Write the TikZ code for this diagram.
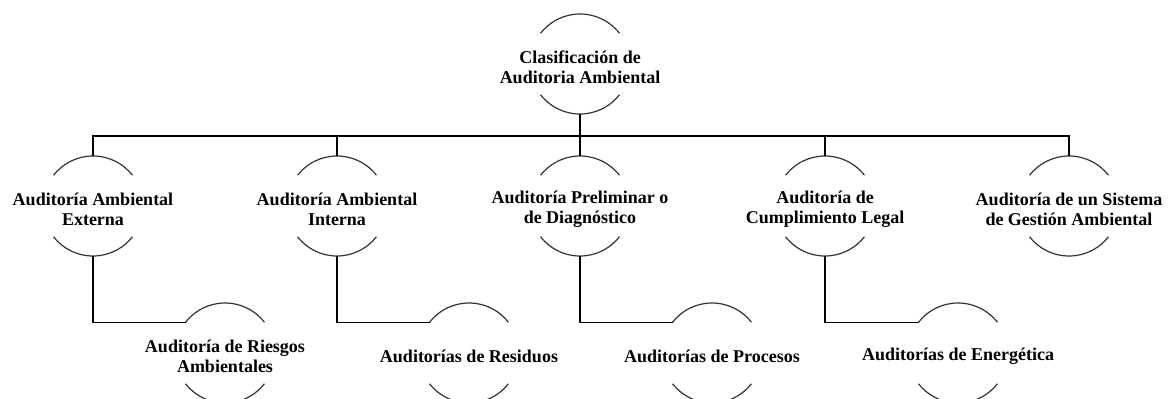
\documentclass[tikz,border=0pt]{standalone}
\usepackage{fontspec}
\setmainfont{Liberation Serif}
\begin{document}
\begin{tikzpicture}[x=1pt,y=-1pt,
  hub/.style={circle,minimum size=100pt,inner sep=0pt,outer sep=0pt,draw=none,
    label={[txt,yshift=-3pt]center:#1}},
  txt/.style={align=center,font=\fontsize{18}{20}\selectfont\bfseries,inner sep=0pt},
  arcline/.style={draw=black!80,line width=1.2pt},
  bus/.style={draw=black,line width=1.8pt},
  sub/.style={draw=black,line width=1.4pt}]
\useasboundingbox (0,0) rectangle (1173,399);
\coordinate (bus) at (0,136);
\node[hub={Clasificación de\\Auditoria Ambiental}] (top) at (580,64) {};
\node[hub={Auditoría Ambiental\\Externa}] (a1) at (93,206) {};
\node[hub={Auditoría Ambiental\\Interna}] (a2) at (337,206) {};
\node[hub={Auditoría Preliminar o\\de Diagnóstico}] (a3) at (580,206) {};
\node[hub={Auditoría de\\Cumplimiento Legal}] (a4) at (825,206) {};
\node[hub={Auditoría de un Sistema\\de Gestión Ambiental}] (a5) at (1069,206) {};
\node[hub={Auditoría de Riesgos\\Ambientales}] (c1) at (225,353) {};
\node[hub={Auditorías de Residuos}] (c2) at (469,353) {};
\node[hub={Auditorías de Procesos}] (c3) at (712,353) {};
\node[hub={Auditorías de Energética}] (c4) at (958,353) {};
\foreach \n in {top,a1,a2,a3,a4,a5,c1,c2,c3,c4}{
  \draw[arcline] (\n.38) arc[start angle=38,end angle=142,radius=50pt];
  \draw[arcline] (\n.218) arc[start angle=218,end angle=322,radius=50pt];
}
\draw[bus] (top.south) -- (top.south |- bus);
\draw[bus] (a1.north) -- (a1.north |- bus) -- (a5.north |- bus) -- (a5.north);
\foreach \n in {a2,a3,a4}{\draw[bus] (\n.north) -- (\n.north |- bus);}
\draw[sub] (a1.south) |- (c1.142);
\draw[sub] (a2.south) |- (c2.142);
\draw[sub] (a3.south) |- (c3.142);
\draw[sub] (a4.south) |- (c4.142);
\end{tikzpicture}
\end{document}
